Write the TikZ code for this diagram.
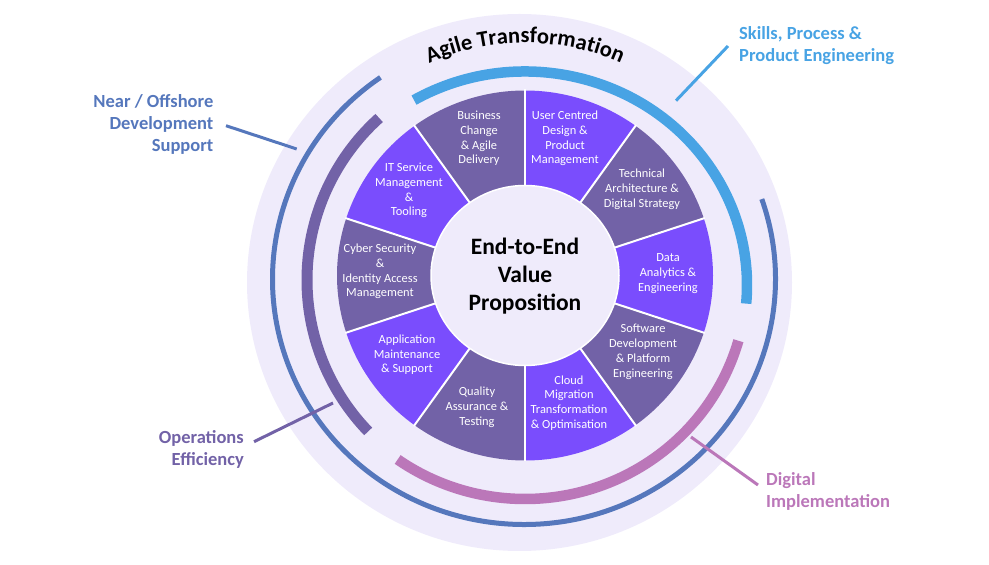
\documentclass[tikz,border=0pt]{standalone}
\usepackage{fontspec}
\setmainfont{Carlito}
\usetikzlibrary{calc,decorations.text}
\definecolor{violetB}{HTML}{7A4DFD}
\definecolor{purpleD}{HTML}{7262A7}
\definecolor{lav}{HTML}{EFEBFB}
\definecolor{skyB}{HTML}{48A3E4}
\definecolor{navyB}{HTML}{5577BC}
\definecolor{pinkA}{HTML}{BB77B9}
\begin{document}
\begin{tikzpicture}[x=1pt,y=1pt,
  wtxt/.style={text=white, font=\fontsize{12.4}{14.8}\selectfont, align=center, inner sep=0pt},
  lbl/.style={font=\bfseries\fontsize{18.5}{22}\selectfont, inner sep=0pt},
  lead/.style={line width=3pt},
  band/.style={line width=10.5pt}]
\useasboundingbox (0,0) rectangle (989,565);
% background disc
\fill[lav] (519.5,282.5) ellipse [x radius=272.5pt, y radius=268.5pt];
% wedges
\coordinate (W) at (525,289.5);
\foreach \a/\c in {90/purpleD, 54/violetB, 18/purpleD, -18/violetB, -54/purpleD, -90/violetB, -126/purpleD, -162/violetB, 162/purpleD, 126/violetB}{
  \fill[\c] ($(W)+(\a:188pt and 185pt)$) arc[start angle=\a, end angle=\a+36, x radius=188pt, y radius=185pt]
    -- ($(W)+(\a+36:94pt and 90pt)$) arc[start angle=\a+36, end angle=\a, x radius=94pt, y radius=90pt] -- cycle;
}
\foreach \a in {90,54,18,-18,-54,-90,-126,-162,162,126}{
  \draw[white, line width=2pt] ($(W)+(\a:92pt and 88pt)$) -- ($(W)+(\a:189pt and 186pt)$);
}
% centre disc
\fill[lav, draw=white, line width=1.5pt] (W) ellipse [x radius=94pt, y radius=90pt];
\node[font=\bfseries\fontsize{23.5}{28}\selectfont, align=center, inner sep=0pt] (ctr) at (525,289) {End-to-End\\Value\\Proposition};
% wedge texts
\node[wtxt] (biz) at (479,426.5) {Business\\Change\\\& Agile\\Delivery};
\node[wtxt] (ucd) at (565,426.5) {User Centred\\Design \&\\Product\\Management};
\node[wtxt] (tech) at (642,375.5) {Technical\\Architecture \&\\Digital Strategy};
\node[wtxt] (data) at (668,291.5) {Data\\Analytics \&\\Engineering};
\node[wtxt] (soft) at (643,213) {Software\\Development\\\& Platform\\Engineering};
\node[wtxt] (cloud) at (569,162) {Cloud\\Migration\\Transformation\\\& Optimisation};
\node[wtxt] (qa) at (477,158) {Quality\\Assurance \&\\Testing};
\node[wtxt] (app) at (407,210.3) {Application\\Maintenance\\\& Support};
\node[wtxt] (cyber) at (380,293.5) {Cyber Security\\\&\\Identity Access\\Management};
\node[wtxt] (itsm) at (409,374.5) {IT Service\\Management\\\&\\Tooling};
% arcs
\draw[navyB, line width=5pt] ($(524,286)+(124.8:251.5pt and 245.5pt)$) arc[start angle=124.8, end angle=379, x radius=251.5pt, y radius=245.5pt];
\draw[skyB, band] ($(525,280)+(120:222pt and 213.5pt)$) arc[start angle=120, end angle=-5, x radius=222pt, y radius=213.5pt];
\draw[purpleD, line width=11pt] ($(525,285)+(132:218pt)$) arc[start angle=132, end angle=224, radius=218pt];
\draw[pinkA, band] ($(525,284.5)+(235:222pt and 218.5pt)$) arc[start angle=235, end angle=344, x radius=222pt, y radius=218.5pt];
% curved title
\path[decorate, decoration={text along path, text align=center,
  text={|\bfseries\fontsize{22.5}{22.5}\selectfont|Agile Transformation}}]
  ($(525,284)+(150:238pt)$) arc[start angle=150, end angle=30, radius=238pt];
% labels
\node[lbl, text=skyB, align=left, anchor=west] (skills) at (739,519) {Skills, Process \&\\Product Engineering};
\node[lbl, text=navyB, align=right, anchor=east] (near) at (213.5,440.5) {Near / Offshore\\Development\\Support};
\node[lbl, text=purpleD, align=right, anchor=east] (ops) at (244,116) {Operations\\Efficiency};
\node[lbl, text=pinkA, align=left, anchor=west] (dig) at (766,74) {Digital\\Implementation};
% leader lines
\coordinate (skA) at (676,464.3); \coordinate (skB) at (728,519);
\coordinate (nrA) at (226,439.3); \coordinate (nrB) at (296.7,416);
\coordinate (opA) at (254,123.3); \coordinate (opB) at (333,162);
\coordinate (dgA) at (691,128);   \coordinate (dgB) at (758,80);
\draw[lead, skyB] (skA) -- (skB);
\draw[lead, navyB] (nrA) -- (nrB);
\draw[lead, purpleD] (opA) -- (opB);
\draw[lead, pinkA] (dgA) -- (dgB);
\end{tikzpicture}
\end{document}
